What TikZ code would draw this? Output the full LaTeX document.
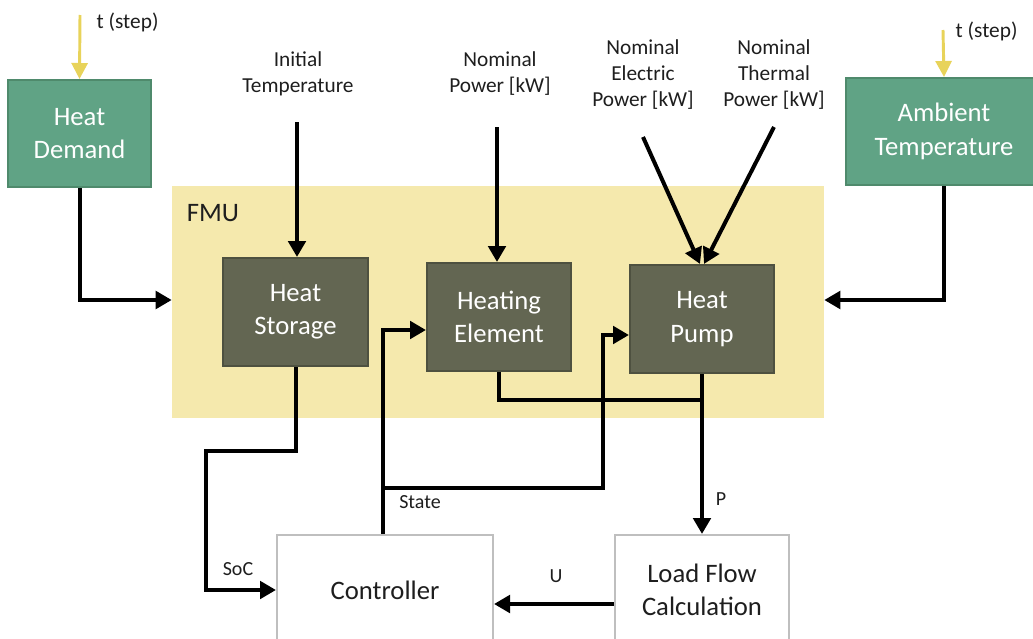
\documentclass[tikz,border=0pt]{standalone}
\usepackage{fontspec}
\setmainfont{Carlito}
\usepackage{tikz}
\usetikzlibrary{arrows.meta,calc,positioning}
\definecolor{ink}{HTML}{1E1E1E}
\definecolor{green}{HTML}{60A385}
\definecolor{greendark}{HTML}{4F8A6C}
\definecolor{olive}{HTML}{636652}
\definecolor{olivedark}{HTML}{4E5140}
\definecolor{fmupale}{HTML}{F5E9AD}
\definecolor{stepyellow}{HTML}{E8D35A}
\definecolor{boxgrey}{HTML}{BFBFBF}

\begin{document}
\begin{tikzpicture}[x=0.75pt,y=-0.75pt,
  source/.style={draw=greendark,fill=green,line width=1.5pt,text=white,
    font=\fontsize{20}{25}\selectfont,align=center,inner sep=0pt},
  block/.style={draw=olivedark,fill=olive,line width=1.5pt,text=white,
    font=\fontsize{20}{25}\selectfont,align=center,inner sep=0pt},
  plain/.style={draw=boxgrey,fill=white,line width=1.5pt,text=ink,
    font=\fontsize{20}{25}\selectfont,align=center,inner sep=0pt},
  param/.style={text=ink,font=\fontsize{16}{19.5}\selectfont,align=center},
  tag/.style={text=ink,font=\fontsize{15}{18}\selectfont},
  flow/.style={line width=3pt,-{Triangle[length=12pt,width=13pt]}},
  wire/.style={line width=3pt},
  tick/.style={stepyellow,line width=2.2pt,-{Triangle[length=12pt,width=12pt]}}]
  \useasboundingbox (0,0) rectangle (1033,639);
  % FMU frame
  \node[fill=fmupale,minimum width=652*0.75pt,minimum height=232*0.75pt] (fmu) at (498,302) {};
  \node[font=\fontsize{20}{24}\selectfont,text=ink] (fmulabel) at (213,213) {FMU};
  % sources
  \node[source,minimum width=143*0.75pt,minimum height=107*0.75pt] (demand) at (79.5,133.5) {Heat\\Demand};
  \node[source,minimum width=196*0.75pt,minimum height=107*0.75pt] (ambient) at (944,131.5) {Ambient\\Temperature};
  % components
  \node[block,minimum width=145*0.75pt,minimum height=108*0.75pt] (storage) at (295.5,312) {Heat\\Storage};
  \node[block,minimum width=144*0.75pt,minimum height=108*0.75pt] (element) at (499,317) {Heating\\Element};
  \node[block,minimum width=144*0.75pt,minimum height=108*0.75pt] (pump) at (702,319) {Heat\\Pump};
  \node[plain,minimum width=216*0.75pt,minimum height=110*0.75pt] (ctrl) at (385,590) {Controller};
  \node[plain,minimum width=174*0.75pt,minimum height=110*0.75pt] (lfc) at (702,590) {Load Flow\\Calculation};
  % parameters
  \node[param] (initT) at (298,74) {Initial\\Temperature};
  \node[param] (nomP) at (500,74) {Nominal\\Power [kW]};
  \node[param] (nomEl) at (643,75) {Nominal\\Electric\\Power [kW]};
  \node[param] (nomTh) at (774,75) {Nominal\\Thermal\\Power [kW]};
  \node[param,anchor=west] (step1) at (92,22) {t (step)};
  \node[param,anchor=west] (step2) at (951,31) {t (step)};
  % free ends
  \coordinate (t1) at (80,15);
  \coordinate (t2) at (943,30);
  \coordinate (iT) at (297,122);
  \coordinate (nP) at (497,127);
  \coordinate (nE) at (643,137);
  \coordinate (nT) at (774,127);
  \coordinate (tap) at (383,488);
  \coordinate (join) at (702,400);
  % time steps
  \draw[tick] (t1) -- (demand.north);
  \draw[tick] (t2) -- (ambient.north);
  % inputs
  \draw[flow] (iT) -- (iT |- storage.north);
  \draw[flow] (nP) -- (nP |- element.north);
  \draw[flow] (nE) -- ([xshift=-1.5pt]pump.north);
  \draw[flow] (nT) -- ([xshift=1.5pt]pump.north);
  \draw[flow] (demand.south) |- ($(fmu.west)+(0,-2)$);
  \draw[flow] (ambient.south) |- ($(fmu.east)+(0,-2)$);
  % signals
  \draw[flow] (storage.south) -- ++(0,84) -| ($(ctrl.west)+(-70,0)$) -- (ctrl.west);
  \draw[flow] (tap |- ctrl.north) |- ($(element.west)+(0,13)$);
  \draw[flow] (tap) -| ($(pump.west)+(-26,16)$) -- ($(pump.west)+(0,16)$);
  \draw[wire] (element.south) |- (join);
  \draw[flow] (pump.south) -- (lfc.north);
  \draw[flow] ($(lfc.west)+(0,14)$) -- ($(ctrl.east)+(0,14)$);
  % labels
  \node[tag] (soc) at (238,569) {SoC};
  \node[tag] (state) at (420,502) {State};
  \node[tag] (plabel) at (721,499) {P};
  \node[tag] (ulabel) at (556,576) {U};
\end{tikzpicture}
\end{document}
